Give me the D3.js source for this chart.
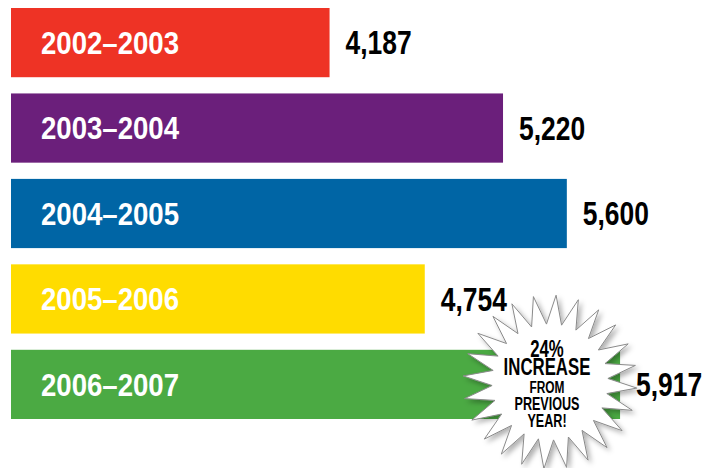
<!DOCTYPE html>
<html>
<head>
<meta charset="utf-8">
<script src="https://cdn.jsdelivr.net/npm/d3@7"></script>
<style>
  body { margin: 0; background: #fff; }
  svg text { font-family: "Liberation Sans", Arial, sans-serif; font-weight: bold; }
</style>
</head>
<body>
<div id="chart"></div>
<script>
// Data
const seasons = ["2002–2003", "2003–2004", "2004–2005", "2005–2006", "2006–2007"];
const counts = [4187, 5220, 5600, 4754, 5917];
const barColors = ["#ee3325", "#6b1f7b", "#0065a5", "#ffdc00", "#4baa43"];
const badgeLines = ["24%", "INCREASE", "FROM", "PREVIOUS", "YEAR!"];

const width = 715, height = 468;

const svg = d3.select("#chart")
              .append("svg")
              .attr("width", width)
              .attr("height", height);

// shadow for the starburst
const defs = svg.append("defs");
defs.append("filter")
    .attr("id", "shadow")
    .attr("x", "-20%").attr("y", "-20%")
    .attr("width", "140%").attr("height", "140%")
    .append("feDropShadow")
    .attr("dx", 3).attr("dy", 3)
    .attr("stdDeviation", 2.5)
    .attr("flood-color", "#000")
    .attr("flood-opacity", 0.3);

// Scales (the original bars do not start at zero)
const x = d3.scaleLinear()
            .domain([2290, 6000])
            .range([11, 634]);

const y = d3.scaleBand()
            .domain(seasons)
            .range([8, 419])
            .paddingInner(0.19);

const rows = seasons.map((s, i) => ({ season: s, value: counts[i], color: barColors[i] }));

// condensed look: squeeze the regular bold face horizontally
const squeeze = (px, py, sx) => "translate(" + px + "," + py + ") scale(" + sx + ",1)";

// Bars
svg.append("g")
   .selectAll("rect")
   .data(rows)
   .enter().append("rect")
   .attr("x", x.range()[0])
   .attr("y", d => y(d.season))
   .attr("width", d => x(d.value) - x.range()[0])
   .attr("height", y.bandwidth())
   .attr("fill", d => d.color);

// Season labels inside bars
svg.append("g")
   .selectAll("text")
   .data(rows)
   .enter().append("text")
   .attr("transform", d => squeeze(41, y(d.season) + y.bandwidth() / 2, 0.89))
   .attr("dy", "0.36em")
   .attr("fill", "#fff")
   .style("font-size", "31px")
   .text(d => d.season);

// Values to the right of bars
svg.append("g")
   .selectAll("text")
   .data(rows)
   .enter().append("text")
   .attr("transform", d => squeeze(x(d.value) + 16, y(d.season) + y.bandwidth() / 2, 0.8))
   .attr("dy", "0.36em")
   .attr("fill", "#000")
   .style("font-size", "33px")
   .text(d => d3.format(",")(d.value));

// Starburst badge
const spikes = 24, rOuter = 87, rInner = 58;
const starPts = d3.range(spikes * 2).map(i => [
    (i / (spikes * 2)) * 2 * Math.PI + 0.07,
    i % 2 === 0 ? rOuter : rInner
]);
const badge = svg.append("g")
                 .attr("transform", "translate(550,382)");
badge.append("path")
     .attr("d", d3.lineRadial().curve(d3.curveLinearClosed)(starPts))
     .attr("fill", "#fff")
     .attr("stroke", "#8a8a8a")
     .attr("stroke-width", 1)
     .attr("filter", "url(#shadow)");

const badgeSizes = [24, 24, 17, 18, 18];
const badgeBase = [-25, -7, 11, 28, 45];
badge.selectAll("text.badge")
     .data(badgeLines)
     .enter().append("text")
     .attr("class", "badge")
     .attr("transform", (d, i) => squeeze(-3, badgeBase[i], 0.7))
     .attr("text-anchor", "middle")
     .attr("fill", "#000")
     .style("font-size", (d, i) => badgeSizes[i] + "px")
     .text(d => d);
</script>
</body>
</html>
